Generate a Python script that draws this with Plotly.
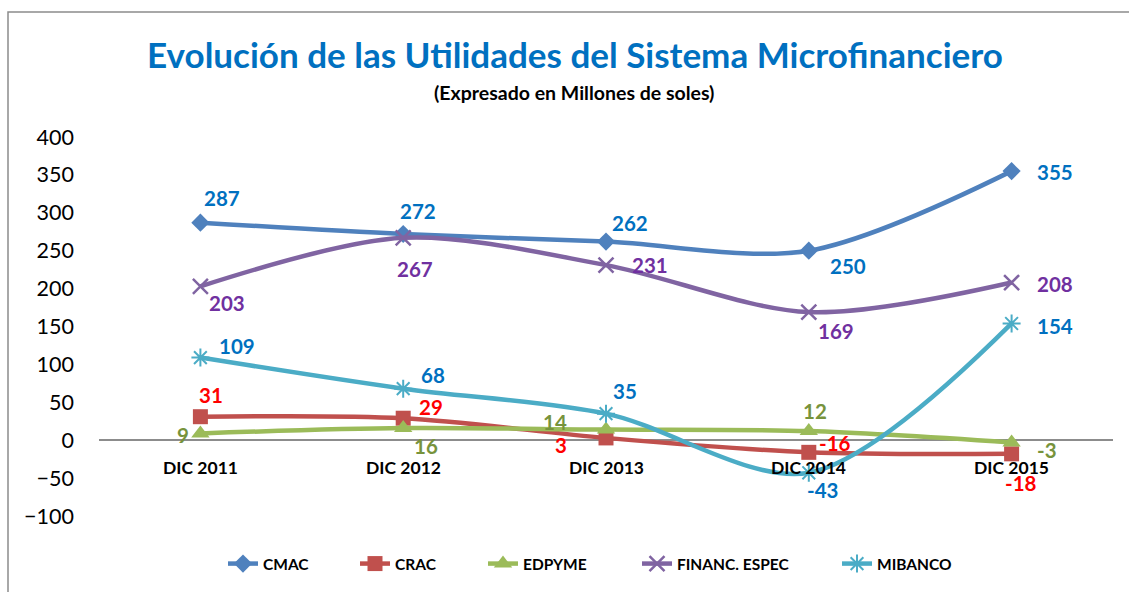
import plotly.graph_objects as go

categories = ["DIC 2011", "DIC 2012", "DIC 2013", "DIC 2014", "DIC 2015"]
cmac = [287, 272, 262, 250, 355]
crac = [31, 29, 3, -16, -18]
edpyme = [9, 16, 14, 12, -3]
financ = [203, 267, 231, 169, 208]
mibanco = [109, 68, 35, -43, 154]
y_ticks = [400, 350, 300, 250, 200, 150, 100, 50, 0, -50, -100]

W, H = 1129, 592
ML, MR, MT, MB = 99, 16, 137, 76
FONT = "Lato"

pw, ph = W - ML - MR, H - MT - MB
def px_x(p):
    return (p - ML) / pw
def px_y(p):
    return (H - MB - p) / ph

# legend text left edge (pixels) for each series
legend_text_x = [263, 395, 523, 677, 877]

series = [
    dict(name="CMAC", y=cmac, color="#4F81BD", lab="#0070C0",
         marker=dict(symbol="diamond", size=14),
         offs=[(22, 25), (15, 23), (24, 19), (39, -15), (43, -1)]),
    dict(name="CRAC", y=crac, color="#C0504D", lab="#FF0000",
         marker=dict(symbol="square", size=15),
         offs=[(11, 22), (28, 11), (-45, -7), (26, 9), (9, -29)]),
    dict(name="EDPYME", y=edpyme, color="#9BBB59", lab="#77933C",
         marker=dict(symbol="triangle-up", size=16),
         offs=[(-17, -2), (23, -18), (-51, 8), (6, 20), (35, -8)]),
    dict(name="FINANC. ESPEC", y=financ, color="#8064A2", lab="#7030A0",
         marker=dict(symbol="x-thin-open", size=15, line=dict(width=2.5, color="#8064A2")),
         offs=[(27, -17), (12, -31), (44, 0), (27, -19), (43, -1)]),
    dict(name="MIBANCO", y=mibanco, color="#4BACC6", lab="#0070C0",
         marker=dict(symbol="asterisk-open", size=15, line=dict(width=2, color="#4BACC6")),
         offs=[(37, 12), (30, 14), (19, 23), (14, -17), (43, -3)]),
]

fig = go.Figure()
annotations = []
legends = {}
for i, s in enumerate(series):
    lname = "legend" if i == 0 else f"legend{i + 1}"
    mk = dict(color=s["color"], **s["marker"])
    fig.add_trace(go.Scatter(
        x=categories, y=s["y"], name=s["name"], mode="lines+markers",
        line=dict(color=s["color"], width=4.5, shape="spline", smoothing=0.9),
        marker=mk, cliponaxis=False, legend=lname,
    ))
    legends[lname] = dict(
        orientation="h", x=px_x(legend_text_x[i] - 40), xanchor="left",
        y=1 - 564 / H, yanchor="middle", yref="container",
        font=dict(family=FONT, size=15.5, color="black", weight="bold"),
        itemwidth=30, bgcolor="rgba(0,0,0,0)",
    )
    for c, v, (dx, dy) in zip(categories, s["y"], s["offs"]):
        annotations.append(dict(
            x=c, y=v, xref="x", yref="y", text=str(v), showarrow=False,
            xshift=dx, yshift=dy,
            font=dict(family=FONT, size=20.5, color=s["lab"], weight="bold"),
        ))

# category labels under the zero line
for c in categories:
    annotations.append(dict(
        x=c, y=0, xref="x", yref="y", text=c, showarrow=False, yshift=-27,
        font=dict(family=FONT, size=17.5, color="black", weight="bold"),
    ))

annotations.append(dict(
    x=px_x(574), y=px_y(93), xref="paper", yref="paper", xanchor="center",
    yanchor="middle", text="(Expresado en Millones de soles)", showarrow=False,
    font=dict(family=FONT, size=19.5, color="black", weight="bold"),
))

fig.update_layout(
    width=W, height=H,
    margin=dict(l=ML, r=MR, t=MT, b=MB),
    paper_bgcolor="white", plot_bgcolor="white",
    title=dict(text="Evolución de las Utilidades del Sistema Microfinanciero",
               x=575 / W, xanchor="center", y=1 - 56 / H, yanchor="middle",
               xref="container", yref="container",
               font=dict(family=FONT, size=35, color="#0070C0", weight="bold")),
    xaxis=dict(type="category", range=[-0.5, 4.5], showticklabels=False,
               showgrid=False, showline=False, zeroline=False, ticks=""),
    yaxis=dict(range=[-100, 400], tickvals=y_ticks, showgrid=False,
               zeroline=True, zerolinecolor="#8C8C8C", zerolinewidth=1.5,
               showline=False, ticks="", ticklabelstandoff=24,
               tickfont=dict(family=FONT, size=21.5, color="black")),
    showlegend=True,
    annotations=annotations,
    shapes=[dict(type="rect", xref="paper", yref="paper",
                 x0=px_x(8), x1=px_x(W + 10), y0=px_y(H + 10), y1=px_y(12),
                 line=dict(color="#8C8C8C", width=1.5), fillcolor="rgba(0,0,0,0)",
                 layer="below")],
    **legends,
)

fig.write_html("out.html", config={"displayModeBar": False},
               post_script="document.body.style.margin='0';document.body.style.padding='0';")
